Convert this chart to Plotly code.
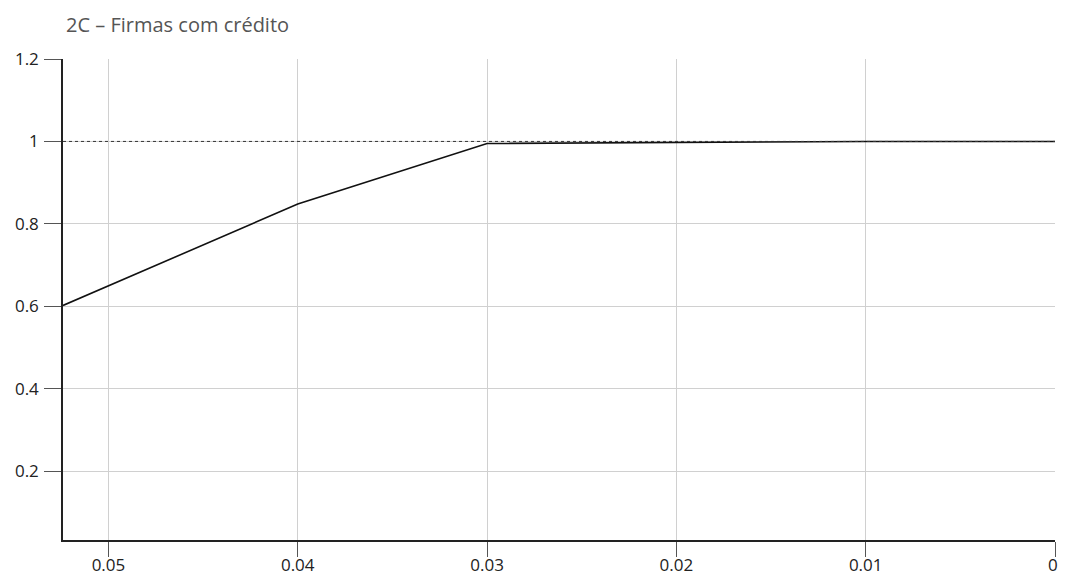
import plotly.graph_objects as go

x_vals = [0.0524, 0.04, 0.03, 0.02, 0.01, 0.0]
y_vals = [0.602, 0.848, 0.995, 0.997, 1.0, 1.0]
x_ticks = [0.05, 0.04, 0.03, 0.02, 0.01, 0]
x_ticklabels = ["0.05", "0.04", "0.03", "0.02", "0.01", "0\u00a0"]
y_ticks = [0.2, 0.4, 0.6, 0.8, 1, 1.2]
y_ticklabels = ["0.2", "0.4", "0.6", "0.8", "1", "1.2"]
ref_level = 1.0
title_text = "2C – Firmas com crédito"

fig = go.Figure()
fig.add_trace(go.Scatter(x=x_vals, y=y_vals, mode="lines",
                         line=dict(color="#111111", width=1.6), showlegend=False,
                         hoverinfo="skip"))

fig.add_shape(type="line", xref="paper", yref="y", x0=0, x1=1, y0=ref_level, y1=ref_level,
              line=dict(color="#333333", width=1, dash="dot"), layer="above")

font_family = "Open Sans, Noto Sans, sans-serif"
# page body has an 8px margin; size the figure so the page does not overflow
fig.update_layout(
    width=1050, height=567,
    margin=dict(l=55, r=3, t=51, b=35, autoexpand=False),
    paper_bgcolor="white", plot_bgcolor="white",
    font=dict(family=font_family, size=17, color="#222222"),
    annotations=[dict(text=title_text, xref="paper", yref="paper", x=0.0, y=1.0,
                      xanchor="left", yanchor="bottom", yshift=19, xshift=1,
                      showarrow=False, font=dict(size=20, color="#555555", family=font_family))],
)
fig.update_xaxes(range=[x_vals[0], 0], tickvals=x_ticks, ticktext=x_ticklabels,
                 showgrid=True, gridcolor="#d0d0d0", gridwidth=1,
                 showline=True, linecolor="#222222", linewidth=1.5,
                 ticks="outside", ticklen=15, tickcolor="#555555", tickwidth=1,
                 ticklabelstandoff=-6, ticklabeloverflow="allow", automargin=False,
                 zeroline=False)
fig.update_yaxes(range=[0.033, 1.2], tickvals=y_ticks, ticktext=y_ticklabels,
                 showgrid=True, gridcolor="#d0d0d0", gridwidth=1,
                 showline=True, linecolor="#222222", linewidth=1.5,
                 ticks="outside", ticklen=17, tickcolor="#555555", tickwidth=1,
                 ticklabelstandoff=2, automargin=False,
                 zeroline=False)

fig.write_html("out.html")
